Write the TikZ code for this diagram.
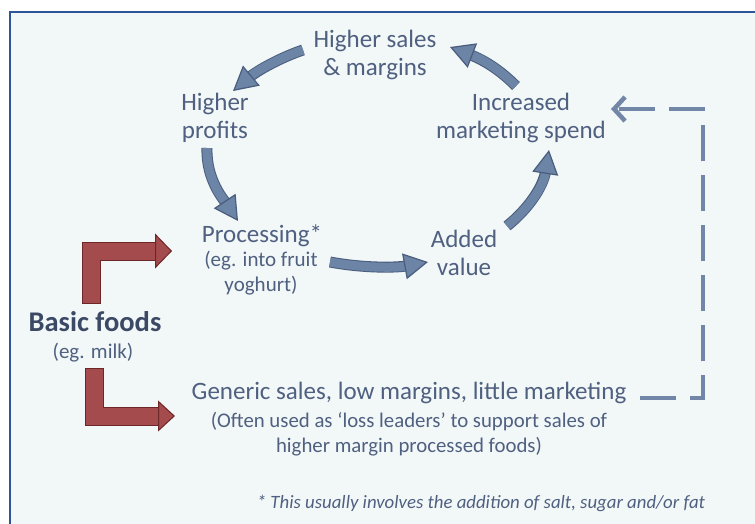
\documentclass[tikz,border=0pt]{standalone}
\usepackage{fontspec}
\setmainfont{Carlito}
\usetikzlibrary{arrows.meta,calc}
\definecolor{panel}{HTML}{F2F7F8}
\definecolor{framecol}{HTML}{2E5597}
\definecolor{txt}{HTML}{4F6080}
\definecolor{txtdark}{HTML}{3B4965}
\definecolor{bluefill}{HTML}{6C84A5}
\definecolor{blueedge}{HTML}{4A5D7D}
\definecolor{redfill}{HTML}{A34B4D}
\definecolor{rededge}{HTML}{6E2729}
\definecolor{dashcol}{HTML}{7287A7}
\begin{document}
\begin{tikzpicture}[x=1pt,y=-1pt,
  lbl/.style={text=txt, align=center, inner sep=0pt, font=\fontsize{25pt}{28pt}\selectfont},
  sublbl/.style={text=txt, align=center, inner sep=0pt, font=\fontsize{21pt}{24.5pt}\selectfont},
  boldlbl/.style={text=txtdark, inner sep=0pt, font=\fontsize{28.5pt}{32pt}\selectfont\bfseries},
  notelbl/.style={text=txt, inner sep=0pt, font=\fontsize{18.8pt}{22pt}\selectfont\itshape},
  cyclearrow/.style={bluefill, line width=9pt,
    -{Triangle[length=24pt,width=26pt,fill=bluefill,color=blueedge,line width=1.2pt]},
    preaction={draw=blueedge, line width=11pt, shorten >=21pt, -}},
  redarrow/.style={redfill, line width=17pt,
    preaction={draw=rededge, line width=19pt, shorten >=14pt, shorten <=-1pt, -}},
  feedback/.style={dashcol, line width=4.5pt, dash pattern=on 36pt off 14pt,
    -{Straight Barb[length=11pt,width=24pt,line width=4.5pt]}}
]
\useasboundingbox (0,0) rectangle (755,523);
\clip (0,0) rectangle (755,523);
\fill[white] (0,0) rectangle (755,523);
\draw[framecol, line width=2pt, fill=panel] (10,12) rectangle (780,560);

% text nodes
\node[lbl] (hs) at (375,55) {Higher sales\\\& margins};
\node[lbl] (hp) at (215,118) {Higher\\profits};
\node[lbl] (im) at (521,118) {Increased\\marketing spend};
\node[lbl, anchor=base] (proc) at (262,242) {Processing*};
\node[sublbl] (procsub) at (261,273) {(eg. into fruit\\yoghurt)};
\node[lbl] (av) at (464,252.5) {Added\\value};
\node[boldlbl, anchor=base] (bf) at (95,331) {Basic foods};
\node[sublbl, anchor=base] (bfs) at (93,358) {(eg. milk)};
\node[lbl, anchor=base] (gen) at (409,399) {Generic sales, low margins, little marketing};
\node[sublbl, font=\fontsize{20.8pt}{25pt}\selectfont] (gensub) at (409,434) {(Often used as ‘loss leaders’ to support sales of\\higher margin processed foods)};
\node[notelbl, anchor=base] (note) at (481,508) {* This usually involves the addition of salt, sugar and/or fat};

% connector end points
\coordinate (a1s) at (303,50);  \coordinate (a1e) at (233,91);
\coordinate (a2s) at (207,148); \coordinate (a2e) at (238,221);
\coordinate (a3s) at (330,262); \coordinate (a3e) at (428,262);
\coordinate (a4s) at (507,226); \coordinate (a4e) at (549,150);
\coordinate (a5s) at (516,86);  \coordinate (a5e) at (450,47);
\coordinate (r1s) at (91,303);  \coordinate (r1e) at (172,251);
\coordinate (r2s) at (94,369);  \coordinate (r2e) at (175,416);
\coordinate (d0) at (640,398);  \coordinate (d1) at (703,398);
\coordinate (d2) at (703,109);  \coordinate (d3) at (611,109);

% cycle arrows
\draw[cyclearrow] (a1s) .. controls (282,57) and (258,70) .. (a1e);
\draw[cyclearrow] (a2s) .. controls (206,180) and (224,200) .. (a2e);
\draw[cyclearrow] (a3s) .. controls (362,268) and (395,268) .. (a3e);
\draw[cyclearrow] (a4s) .. controls (527,210) and (543,188) .. (a4e);
\draw[cyclearrow] (a5s) .. controls (500,70) and (484,60) .. (a5e);

% red bent arrows
\draw[redarrow, -{Triangle[length=17pt,width=35pt,fill=redfill,color=rededge,line width=1pt]}] (r1s) |- (r1e);
\draw[redarrow, -{Triangle[length=17pt,width=31pt,fill=redfill,color=rededge,line width=1pt]}] (r2s) |- (r2e);

% dashed feedback connector
\draw[feedback] (d0) -- (d1) -- (d2) -- (d3);
\end{tikzpicture}
\end{document}
